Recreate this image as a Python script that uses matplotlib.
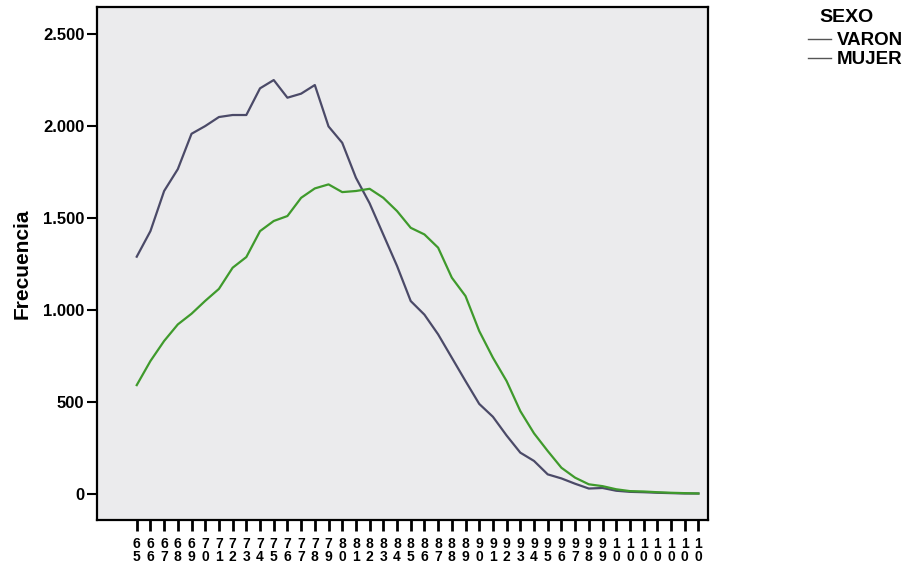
import matplotlib.pyplot as plt
from matplotlib.lines import Line2D

plt.rcParams['font.family'] = ['Liberation Sans', 'DejaVu Sans']

# edades 65..106
edades = list(range(65, 107))

varon = [1290, 1429, 1647, 1766, 1958, 2000, 2049, 2060, 2060, 2205,
         2250, 2154, 2176, 2223, 1998, 1909, 1719, 1580, 1410, 1240,
         1049, 975, 868, 741, 614, 490, 420, 318, 225, 180,
         107, 85, 56, 30, 33, 18, 12, 10, 7, 5,
         3, 3]

mujer = [592, 723, 832, 922, 980, 1050, 1115, 1230, 1288, 1429,
         1484, 1511, 1610, 1661, 1683, 1641, 1647, 1659, 1610, 1538,
         1447, 1411, 1339, 1176, 1076, 886, 741, 614, 451, 330,
         234, 143, 89, 53, 43, 26, 16, 14, 10, 7,
         5, 3]

# etiquetas truncadas a dos caracteres, en vertical
xlabels = [str(e)[0] + "\n" + str(e)[1] for e in edades]
ytick_vals = [0, 500, 1000, 1500, 2000, 2500]
ytick_labels = ["0", "500", "1.000", "1.500", "2.000", "2.500"]

fig = plt.figure(figsize=(9.22, 5.66), dpi=100)
ax = fig.add_axes([97/922, 1-520/566, (708-97)/922, (520-7)/566])
ax.set_facecolor('#ebebed')

ax.plot(edades, varon, color='#4b4a68', lw=1.6)
ax.plot(edades, mujer, color='#3f9a2c', lw=1.6)

ax.set_xlim(62.1, 106.7)
ax.set_ylim(-141, 2647)

ax.set_xticks(edades)
ax.set_xticklabels(xlabels, fontsize=10, fontweight='bold', linespacing=0.9)
ax.set_yticks(ytick_vals)
ax.set_yticklabels(ytick_labels, fontsize=12, fontweight='bold')
ax.tick_params(axis='x', direction='out', length=8, width=2, pad=4)
ax.tick_params(axis='y', direction='out', length=7, width=1.5, pad=2)
for s in ax.spines.values():
    s.set_linewidth(1.6)

ax.set_ylabel("Frecuencia", fontsize=15, fontweight='bold', labelpad=8)

# titulo de la leyenda aparte, como en el original
fig.text(846/922, 1-17/566, "SEXO", ha='center', va='center',
         fontsize=14, fontweight='bold')
handles = [Line2D([], [], color='#555555', lw=1.0),
           Line2D([], [], color='#555555', lw=1.0)]
leg = fig.legend(handles, ["VARON", "MUJER"], loc='upper left',
                 bbox_to_anchor=(793/922, 1-17/566), frameon=False,
                 prop={'size': 13.5, 'weight': 'bold'}, handlelength=1.2,
                 handletextpad=0.35, labelspacing=0.1, borderpad=0.3)

fig.savefig("out.png", dpi=100)
